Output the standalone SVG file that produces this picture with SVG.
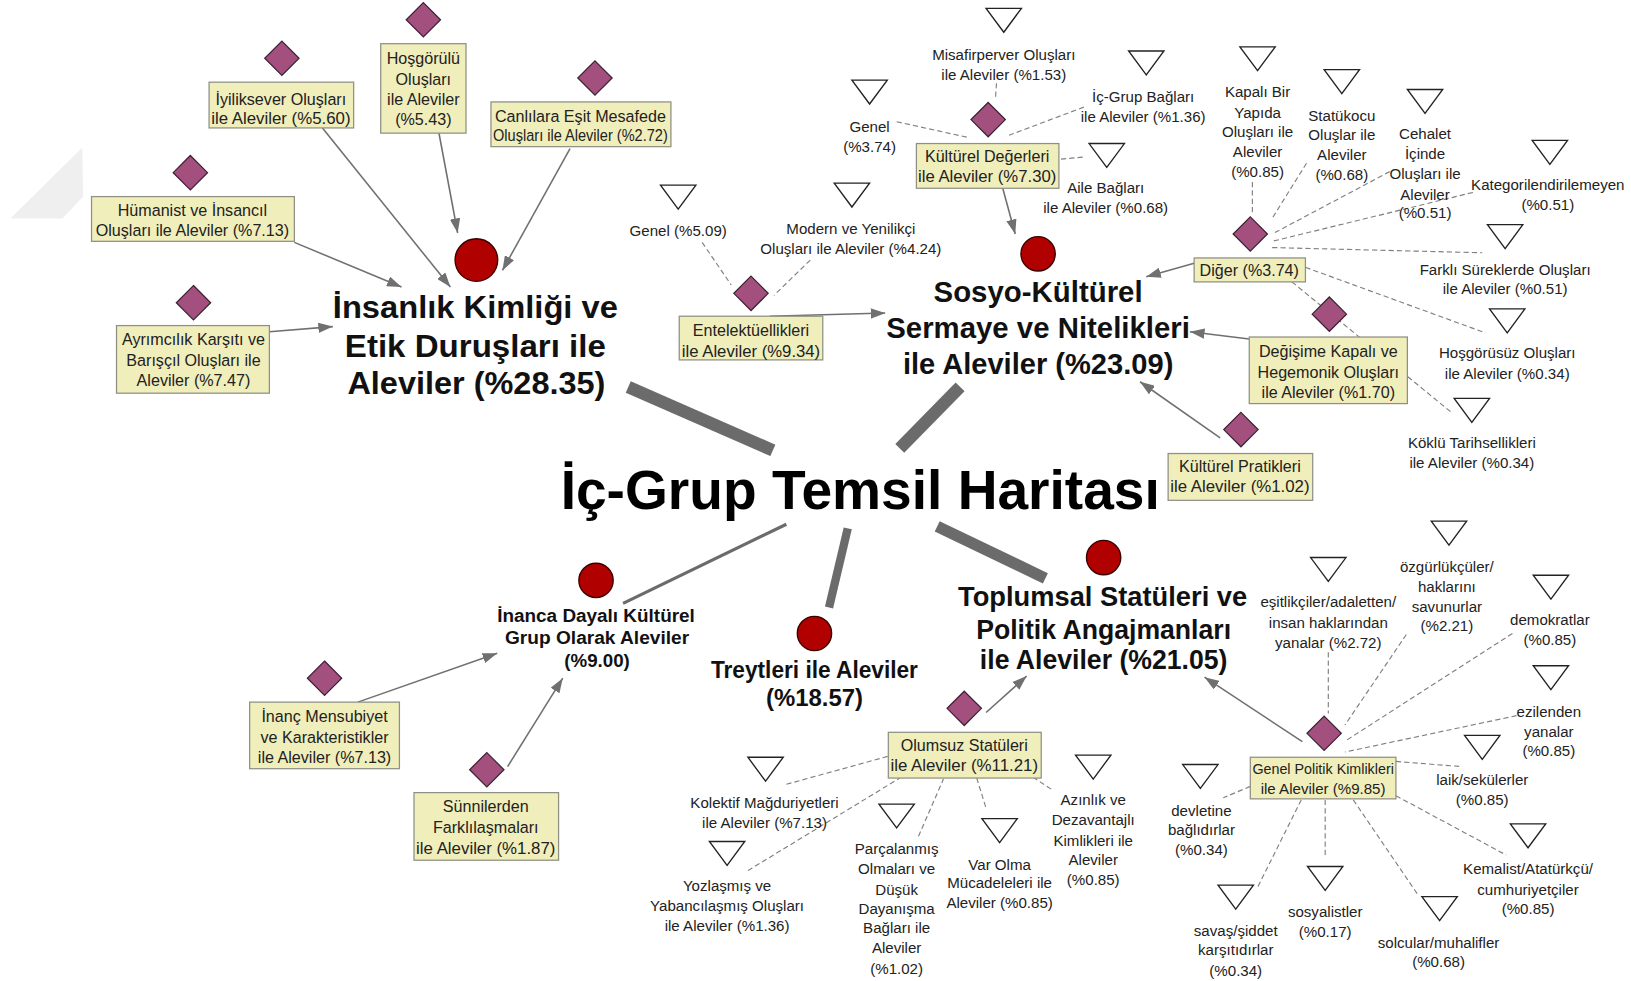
<svg xmlns="http://www.w3.org/2000/svg" xmlns:xlink="http://www.w3.org/1999/xlink" width="1631" height="981" viewBox="0 0 1631 981">
<defs>
<style>
.box{fill:#f0eebb;stroke:#8f8f84;stroke-width:1.2}
.dia{fill:#a3507f;stroke:#3d2233;stroke-width:1.2}
.tri{fill:#fff;stroke:#222;stroke-width:1.3}
.dot{fill:#b00000;stroke:#3a0000;stroke-width:1.3}
text{font-family:"Liberation Sans",Arial,sans-serif;fill:#222;text-anchor:middle}
.t{font-size:14.5px}
.bt{font-size:15.5px}
.cat{font-weight:bold;fill:#111}
.arr{stroke:#707070;stroke-width:1.5;fill:none;marker-end:url(#ah)}
.dash{stroke:#808080;stroke-width:1.1;stroke-dasharray:5 3;fill:none}
.bar{stroke:#6b6b6b;fill:none}
</style>
<marker id="ah" viewBox="0 0 14 10" refX="14" refY="5" markerWidth="14" markerHeight="10" markerUnits="userSpaceOnUse" orient="auto"><path d="M0,0 L14,5 L0,10 z" fill="#707070"/></marker>
<path id="dm" class="dia" d="M0,-16.5 L16.5,0 L0,16.5 L-16.5,0Z"/>
<path id="tr" class="tri" d="M-17,0 L17,0 L0,23Z"/>
</defs>
<rect width="1631" height="981" fill="#fff"/>
<g transform="scale(1.04018)">
<polygon points="10,210 79,142 80,189 60,210" fill="#efefef"/>

<g id="connectors">
<line class="bar" x1="604" y1="372" x2="743" y2="433" stroke-width="12"/>
<line class="bar" x1="923" y1="372" x2="865" y2="431" stroke-width="12"/>
<line class="bar" x1="815" y1="508" x2="797" y2="584" stroke-width="8"/>
<line class="bar" x1="901" y1="506" x2="1005" y2="556" stroke-width="11"/>
<line class="bar" x1="756" y1="504" x2="599" y2="580" stroke-width="3"/>

<line class="arr" x1="310" y1="123" x2="433" y2="276"/>
<line class="arr" x1="422" y1="128" x2="440" y2="224"/>
<line class="arr" x1="548" y1="143" x2="483" y2="260"/>
<line class="arr" x1="283" y1="233" x2="386" y2="276"/>
<line class="arr" x1="259" y1="319" x2="320" y2="314"/>

<line class="arr" x1="740" y1="304" x2="851" y2="301"/>
<line class="arr" x1="964" y1="181" x2="976" y2="225"/>
<line class="arr" x1="1148" y1="253" x2="1102" y2="266"/>
<line class="arr" x1="1201" y1="326" x2="1144" y2="319"/>
<line class="arr" x1="1173" y1="421" x2="1096" y2="367"/>

<line class="arr" x1="344" y1="675" x2="478" y2="628"/>
<line class="arr" x1="488" y1="737" x2="541" y2="652"/>

<line class="arr" x1="948" y1="685" x2="987" y2="650"/>
<line class="arr" x1="1252" y1="713" x2="1158" y2="651"/>

<line class="dash" x1="675" y1="233" x2="703" y2="274"/>
<line class="dash" x1="779" y1="250" x2="744" y2="284"/>
<line class="dash" x1="862" y1="117" x2="930" y2="132"/>
<line class="dash" x1="958" y1="80" x2="957" y2="95"/>
<line class="dash" x1="1042" y1="103" x2="970" y2="130"/>
<line class="dash" x1="1020" y1="153" x2="1042" y2="151"/>

<line class="dash" x1="1204" y1="175" x2="1204" y2="205"/>
<line class="dash" x1="1256" y1="157" x2="1223" y2="210"/>
<line class="dash" x1="1336" y1="165" x2="1223" y2="225"/>
<line class="dash" x1="1416" y1="185" x2="1223" y2="232"/>
<line class="dash" x1="1223" y1="238" x2="1425" y2="243"/>
<line class="dash" x1="1255" y1="257" x2="1428" y2="320"/>
<line class="dash" x1="1242" y1="271" x2="1396" y2="397"/>

<line class="dash" x1="756" y1="754" x2="854" y2="727"/>
<line class="dash" x1="719" y1="837" x2="865" y2="748"/>
<line class="dash" x1="883" y1="804" x2="907" y2="749"/>
<line class="dash" x1="939" y1="748" x2="948" y2="777"/>
<line class="dash" x1="993" y1="747" x2="1011" y2="759"/>

<line class="dash" x1="1277" y1="627" x2="1277" y2="686"/>
<line class="dash" x1="1352" y1="610" x2="1293" y2="697"/>
<line class="dash" x1="1454" y1="609" x2="1294" y2="712"/>
<line class="dash" x1="1458" y1="688" x2="1293" y2="723"/>
<line class="dash" x1="1342" y1="732" x2="1405" y2="737"/>
<line class="dash" x1="1342" y1="765" x2="1448" y2="822"/>
<line class="dash" x1="1202" y1="756" x2="1176" y2="767"/>
<line class="dash" x1="1251" y1="769" x2="1209" y2="853"/>
<line class="dash" x1="1274" y1="769" x2="1274" y2="824"/>
<line class="dash" x1="1301" y1="769" x2="1363" y2="860"/>
</g>

<g id="title">
<text x="539" y="489" font-size="53" font-weight="bold" style="text-anchor:start;fill:#000" textLength="576" lengthAdjust="spacingAndGlyphs">İç-Grup Temsil Haritası</text>
</g>

<g id="cat-insanlik">
<circle class="dot" cx="458" cy="250" r="20.5"/>
<text class="cat" x="457" y="306" font-size="30" textLength="274" lengthAdjust="spacingAndGlyphs">İnsanlık Kimliği ve</text>
<text class="cat" x="457" y="343" font-size="30" textLength="251" lengthAdjust="spacingAndGlyphs">Etik Duruşları ile</text>
<text class="cat" x="458" y="379" font-size="30" textLength="248" lengthAdjust="spacingAndGlyphs">Aleviler (%28.35)</text>
</g>
<g id="cat-sosyo">
<circle class="dot" cx="998" cy="244" r="16.5"/>
<text class="cat" x="998" y="290" font-size="29" textLength="201" lengthAdjust="spacingAndGlyphs">Sosyo-Kültürel</text>
<text class="cat" x="998" y="325" font-size="29" textLength="292" lengthAdjust="spacingAndGlyphs">Sermaye ve Nitelikleri</text>
<text class="cat" x="998" y="360" font-size="29" textLength="260" lengthAdjust="spacingAndGlyphs">ile Aleviler (%23.09)</text>
</g>
<g id="cat-inanca">
<circle class="dot" cx="573" cy="558" r="16.5"/>
<text class="cat" x="573" y="598" font-size="18" textLength="190" lengthAdjust="spacingAndGlyphs">İnanca Dayalı Kültürel</text>
<text class="cat" x="574" y="619" font-size="18" textLength="177" lengthAdjust="spacingAndGlyphs">Grup Olarak Aleviler</text>
<text class="cat" x="574" y="641" font-size="18">(%9.00)</text>
</g>
<g id="cat-treyt">
<circle class="dot" cx="783" cy="609" r="16.5"/>
<text class="cat" x="783" y="652" font-size="23" textLength="199" lengthAdjust="spacingAndGlyphs">Treytleri ile Aleviler</text>
<text class="cat" x="783" y="679" font-size="23">(%18.57)</text>
</g>
<g id="cat-toplumsal">
<circle class="dot" cx="1061" cy="536" r="16.5"/>
<text class="cat" x="1060" y="583" font-size="27" textLength="278" lengthAdjust="spacingAndGlyphs">Toplumsal Statüleri ve</text>
<text class="cat" x="1061" y="614" font-size="27" textLength="245" lengthAdjust="spacingAndGlyphs">Politik Angajmanları</text>
<text class="cat" x="1061" y="643" font-size="27" textLength="238" lengthAdjust="spacingAndGlyphs">ile Aleviler (%21.05)</text>
</g>

<g id="n-iyiliksever">
<use xlink:href="#dm" x="271" y="56"/>
<rect class="box" x="201" y="79" width="139" height="44"/>
<text class="bt" x="270" y="101">İyiliksever Oluşları</text>
<text class="bt" x="270" y="119" textLength="134" lengthAdjust="spacingAndGlyphs">ile Aleviler (%5.60)</text>
</g>
<g id="n-hosgorulu">
<use xlink:href="#dm" x="407" y="19"/>
<rect class="box" x="366" y="42" width="82" height="86"/>
<text class="bt" x="407" y="62">Hoşgörülü</text>
<text class="bt" x="407" y="82">Oluşları</text>
<text class="bt" x="407" y="101">ile Aleviler</text>
<text class="bt" x="407" y="120">(%5.43)</text>
</g>
<g id="n-canlilara">
<use xlink:href="#dm" x="572" y="75"/>
<rect class="box" x="472" y="98" width="173" height="43"/>
<text class="bt" x="558" y="117">Canlılara Eşit Mesafede</text>
<text class="bt" x="558" y="136" textLength="168" lengthAdjust="spacingAndGlyphs">Oluşları ile Aleviler (%2.72)</text>
</g>
<g id="n-humanist">
<use xlink:href="#dm" x="183" y="166"/>
<rect class="box" x="88" y="189" width="195" height="43"/>
<text class="bt" x="185" y="208">Hümanist ve İnsancıl</text>
<text class="bt" x="185" y="227">Oluşları ile Aleviler (%7.13)</text>
</g>
<g id="n-ayrimcilik">
<use xlink:href="#dm" x="186" y="291"/>
<rect class="box" x="112" y="313" width="147" height="65"/>
<text class="bt" x="186" y="332">Ayrımcılık Karşıtı ve</text>
<text class="bt" x="186" y="352">Barışçıl Oluşları ile</text>
<text class="bt" x="186" y="371">Aleviler (%7.47)</text>
</g>

<g id="n-entelektuel">
<use xlink:href="#dm" x="722" y="282"/>
<rect class="box" x="653" y="304" width="138" height="42"/>
<text class="bt" x="722" y="323">Entelektüellikleri</text>
<text class="bt" x="722" y="343" textLength="133" lengthAdjust="spacingAndGlyphs">ile Aleviler (%9.34)</text>
</g>
<g id="t-genel509">
<use xlink:href="#tr" x="652" y="178"/>
<text class="t" x="652" y="227">Genel (%5.09)</text>
</g>
<g id="t-modern">
<use xlink:href="#tr" x="819" y="176"/>
<text class="t" x="818" y="225">Modern ve Yenilikçi</text>
<text class="t" x="818" y="244">Oluşları ile Aleviler (%4.24)</text>
</g>

<g id="n-kulturel-degerleri">
<use xlink:href="#dm" x="950" y="115"/>
<rect class="box" x="881" y="138" width="137" height="43"/>
<text class="bt" x="949" y="156">Kültürel Değerleri</text>
<text class="bt" x="949" y="175" textLength="133" lengthAdjust="spacingAndGlyphs">ile Aleviler (%7.30)</text>
</g>
<g id="t-misafirperver">
<use xlink:href="#tr" x="965" y="8"/>
<text class="t" x="965" y="58">Misafirperver Oluşları</text>
<text class="t" x="965" y="77">ile Aleviler (%1.53)</text>
</g>
<g id="t-genel374">
<use xlink:href="#tr" x="836" y="77"/>
<text class="t" x="836" y="127">Genel</text>
<text class="t" x="836" y="146">(%3.74)</text>
</g>
<g id="t-icgrup">
<use xlink:href="#tr" x="1102" y="49"/>
<text class="t" x="1099" y="98">İç-Grup Bağları</text>
<text class="t" x="1099" y="117">ile Aleviler (%1.36)</text>
</g>
<g id="t-aile">
<use xlink:href="#tr" x="1064" y="138"/>
<text class="t" x="1063" y="186">Aile Bağları</text>
<text class="t" x="1063" y="205">ile Aleviler (%0.68)</text>
</g>

<g id="n-diger">
<use xlink:href="#dm" x="1202" y="225"/>
<rect class="box" x="1148" y="248" width="107" height="23"/>
<text class="bt" x="1201" y="265">Diğer (%3.74)</text>
</g>
<g id="t-kapali">
<use xlink:href="#tr" x="1209" y="45"/>
<text class="t" x="1209" y="93">Kapalı Bir</text>
<text class="t" x="1209" y="113">Yapıda</text>
<text class="t" x="1209" y="132">Oluşları ile</text>
<text class="t" x="1209" y="151">Aleviler</text>
<text class="t" x="1209" y="170">(%0.85)</text>
</g>
<g id="t-statukocu">
<use xlink:href="#tr" x="1290" y="67"/>
<text class="t" x="1290" y="116">Statükocu</text>
<text class="t" x="1290" y="135">Oluşlar ile</text>
<text class="t" x="1290" y="154">Aleviler</text>
<text class="t" x="1290" y="173">(%0.68)</text>
</g>
<g id="t-cehalet">
<use xlink:href="#tr" x="1370" y="86"/>
<text class="t" x="1370" y="134">Cehalet</text>
<text class="t" x="1370" y="153">İçinde</text>
<text class="t" x="1370" y="172">Oluşları ile</text>
<text class="t" x="1370" y="192">Aleviler</text>
<text class="t" x="1370" y="210">(%0.51)</text>
</g>
<g id="t-kategorilendirilemeyen">
<use xlink:href="#tr" x="1490" y="135"/>
<text class="t" x="1488" y="183">Kategorilendirilemeyen</text>
<text class="t" x="1488" y="202">(%0.51)</text>
</g>
<g id="t-farkli">
<use xlink:href="#tr" x="1447" y="216"/>
<text class="t" x="1447" y="264">Farklı Süreklerde Oluşları</text>
<text class="t" x="1447" y="283">ile Aleviler (%0.51)</text>
</g>
<g id="t-hosgorusuz">
<use xlink:href="#tr" x="1449" y="297"/>
<text class="t" x="1449" y="344">Hoşgörüsüz Oluşları</text>
<text class="t" x="1449" y="364">ile Aleviler (%0.34)</text>
</g>
<g id="t-koklu">
<use xlink:href="#tr" x="1415" y="383"/>
<text class="t" x="1415" y="431">Köklü Tarihsellikleri</text>
<text class="t" x="1415" y="450">ile Aleviler (%0.34)</text>
</g>
<g id="n-degisime">
<use xlink:href="#dm" x="1278" y="302"/>
<rect class="box" x="1201" y="324" width="152" height="64"/>
<text class="bt" x="1277" y="343">Değişime Kapalı ve</text>
<text class="bt" x="1277" y="363">Hegemonik Oluşları</text>
<text class="bt" x="1277" y="383">ile Aleviler (%1.70)</text>
</g>
<g id="n-kulturel-pratikleri">
<use xlink:href="#dm" x="1193" y="413"/>
<rect class="box" x="1123" y="436" width="139" height="45"/>
<text class="bt" x="1192" y="454">Kültürel Pratikleri</text>
<text class="bt" x="1192" y="473" textLength="134" lengthAdjust="spacingAndGlyphs">ile Aleviler (%1.02)</text>
</g>

<g id="n-inanc">
<use xlink:href="#dm" x="312" y="652"/>
<rect class="box" x="240" y="675" width="144" height="64"/>
<text class="bt" x="312" y="694">İnanç Mensubiyet</text>
<text class="bt" x="312" y="714">ve Karakteristikler</text>
<text class="bt" x="312" y="734">ile Aleviler (%7.13)</text>
</g>
<g id="n-sunnilerden">
<use xlink:href="#dm" x="468" y="740"/>
<rect class="box" x="398" y="762" width="139" height="65"/>
<text class="bt" x="467" y="781">Sünnilerden</text>
<text class="bt" x="467" y="801">Farklılaşmaları</text>
<text class="bt" x="467" y="821" textLength="134" lengthAdjust="spacingAndGlyphs">ile Aleviler (%1.87)</text>
</g>

<g id="n-olumsuz">
<use xlink:href="#dm" x="927" y="681"/>
<rect class="box" x="854" y="704" width="147" height="44"/>
<text class="bt" x="927" y="722">Olumsuz Statüleri</text>
<text class="bt" x="927" y="741" textLength="142" lengthAdjust="spacingAndGlyphs">ile Aleviler (%11.21)</text>
</g>
<g id="t-kolektif">
<use xlink:href="#tr" x="736" y="728"/>
<text class="t" x="735" y="777">Kolektif Mağduriyetleri</text>
<text class="t" x="735" y="796">ile Aleviler (%7.13)</text>
</g>
<g id="t-yozlasmis">
<use xlink:href="#tr" x="699" y="809"/>
<text class="t" x="699" y="857">Yozlaşmış ve</text>
<text class="t" x="699" y="876">Yabancılaşmış Oluşları</text>
<text class="t" x="699" y="895">ile Aleviler (%1.36)</text>
</g>
<g id="t-parcalanmis">
<use xlink:href="#tr" x="862" y="773"/>
<text class="t" x="862" y="821">Parçalanmış</text>
<text class="t" x="862" y="840">Olmaları ve</text>
<text class="t" x="862" y="860">Düşük</text>
<text class="t" x="862" y="879">Dayanışma</text>
<text class="t" x="862" y="897">Bağları ile</text>
<text class="t" x="862" y="916">Aleviler</text>
<text class="t" x="862" y="936">(%1.02)</text>
</g>
<g id="t-varolma">
<use xlink:href="#tr" x="961" y="787"/>
<text class="t" x="961" y="836">Var Olma</text>
<text class="t" x="961" y="854">Mücadeleleri ile</text>
<text class="t" x="961" y="873">Aleviler (%0.85)</text>
</g>
<g id="t-azinlik">
<use xlink:href="#tr" x="1051" y="726"/>
<text class="t" x="1051" y="774">Azınlık ve</text>
<text class="t" x="1051" y="793">Dezavantajlı</text>
<text class="t" x="1051" y="813">Kimlikleri ile</text>
<text class="t" x="1051" y="832">Aleviler</text>
<text class="t" x="1051" y="851">(%0.85)</text>
</g>

<g id="n-genel-politik">
<use xlink:href="#dm" x="1273" y="705"/>
<rect class="box" x="1202" y="728" width="140" height="40"/>
<text class="bt" x="1272" y="744" style="font-size:14.5px" textLength="136" lengthAdjust="spacingAndGlyphs">Genel Politik Kimlikleri</text>
<text class="bt" x="1272" y="763" style="font-size:14.5px">ile Aleviler (%9.85)</text>
</g>
<g id="t-esitlikciler">
<use xlink:href="#tr" x="1277" y="536"/>
<text class="t" x="1277" y="584">eşitlikçiler/adaletten/</text>
<text class="t" x="1277" y="604">insan haklarından</text>
<text class="t" x="1277" y="623">yanalar (%2.72)</text>
</g>
<g id="t-ozgurlukculer">
<use xlink:href="#tr" x="1393" y="501"/>
<text class="t" x="1391" y="550">özgürlükçüler/</text>
<text class="t" x="1391" y="569">haklarını</text>
<text class="t" x="1391" y="588">savunurlar</text>
<text class="t" x="1391" y="607">(%2.21)</text>
</g>
<g id="t-demokratlar">
<use xlink:href="#tr" x="1491" y="553"/>
<text class="t" x="1490" y="601">demokratlar</text>
<text class="t" x="1490" y="620">(%0.85)</text>
</g>
<g id="t-ezilenden">
<use xlink:href="#tr" x="1491" y="640"/>
<text class="t" x="1489" y="689">ezilenden</text>
<text class="t" x="1489" y="709">yanalar</text>
<text class="t" x="1489" y="727">(%0.85)</text>
</g>
<g id="t-laik">
<use xlink:href="#tr" x="1425" y="707"/>
<text class="t" x="1425" y="755">laik/sekülerler</text>
<text class="t" x="1425" y="774">(%0.85)</text>
</g>
<g id="t-kemalist">
<use xlink:href="#tr" x="1469" y="792"/>
<text class="t" x="1469" y="840">Kemalist/Atatürkçü/</text>
<text class="t" x="1469" y="860">cumhuriyetçiler</text>
<text class="t" x="1469" y="879">(%0.85)</text>
</g>
<g id="t-devletine">
<use xlink:href="#tr" x="1154" y="735"/>
<text class="t" x="1155" y="784">devletine</text>
<text class="t" x="1155" y="803">bağlıdırlar</text>
<text class="t" x="1155" y="822">(%0.34)</text>
</g>
<g id="t-savas">
<use xlink:href="#tr" x="1188" y="851"/>
<text class="t" x="1188" y="900">savaş/şiddet</text>
<text class="t" x="1188" y="918">karşıtıdırlar</text>
<text class="t" x="1188" y="938">(%0.34)</text>
</g>
<g id="t-sosyalistler">
<use xlink:href="#tr" x="1274" y="833"/>
<text class="t" x="1274" y="882">sosyalistler</text>
<text class="t" x="1274" y="901">(%0.17)</text>
</g>
<g id="t-solcular">
<use xlink:href="#tr" x="1384" y="862"/>
<text class="t" x="1383" y="911">solcular/muhalifler</text>
<text class="t" x="1383" y="930">(%0.68)</text>
</g>
</g>
</svg>
